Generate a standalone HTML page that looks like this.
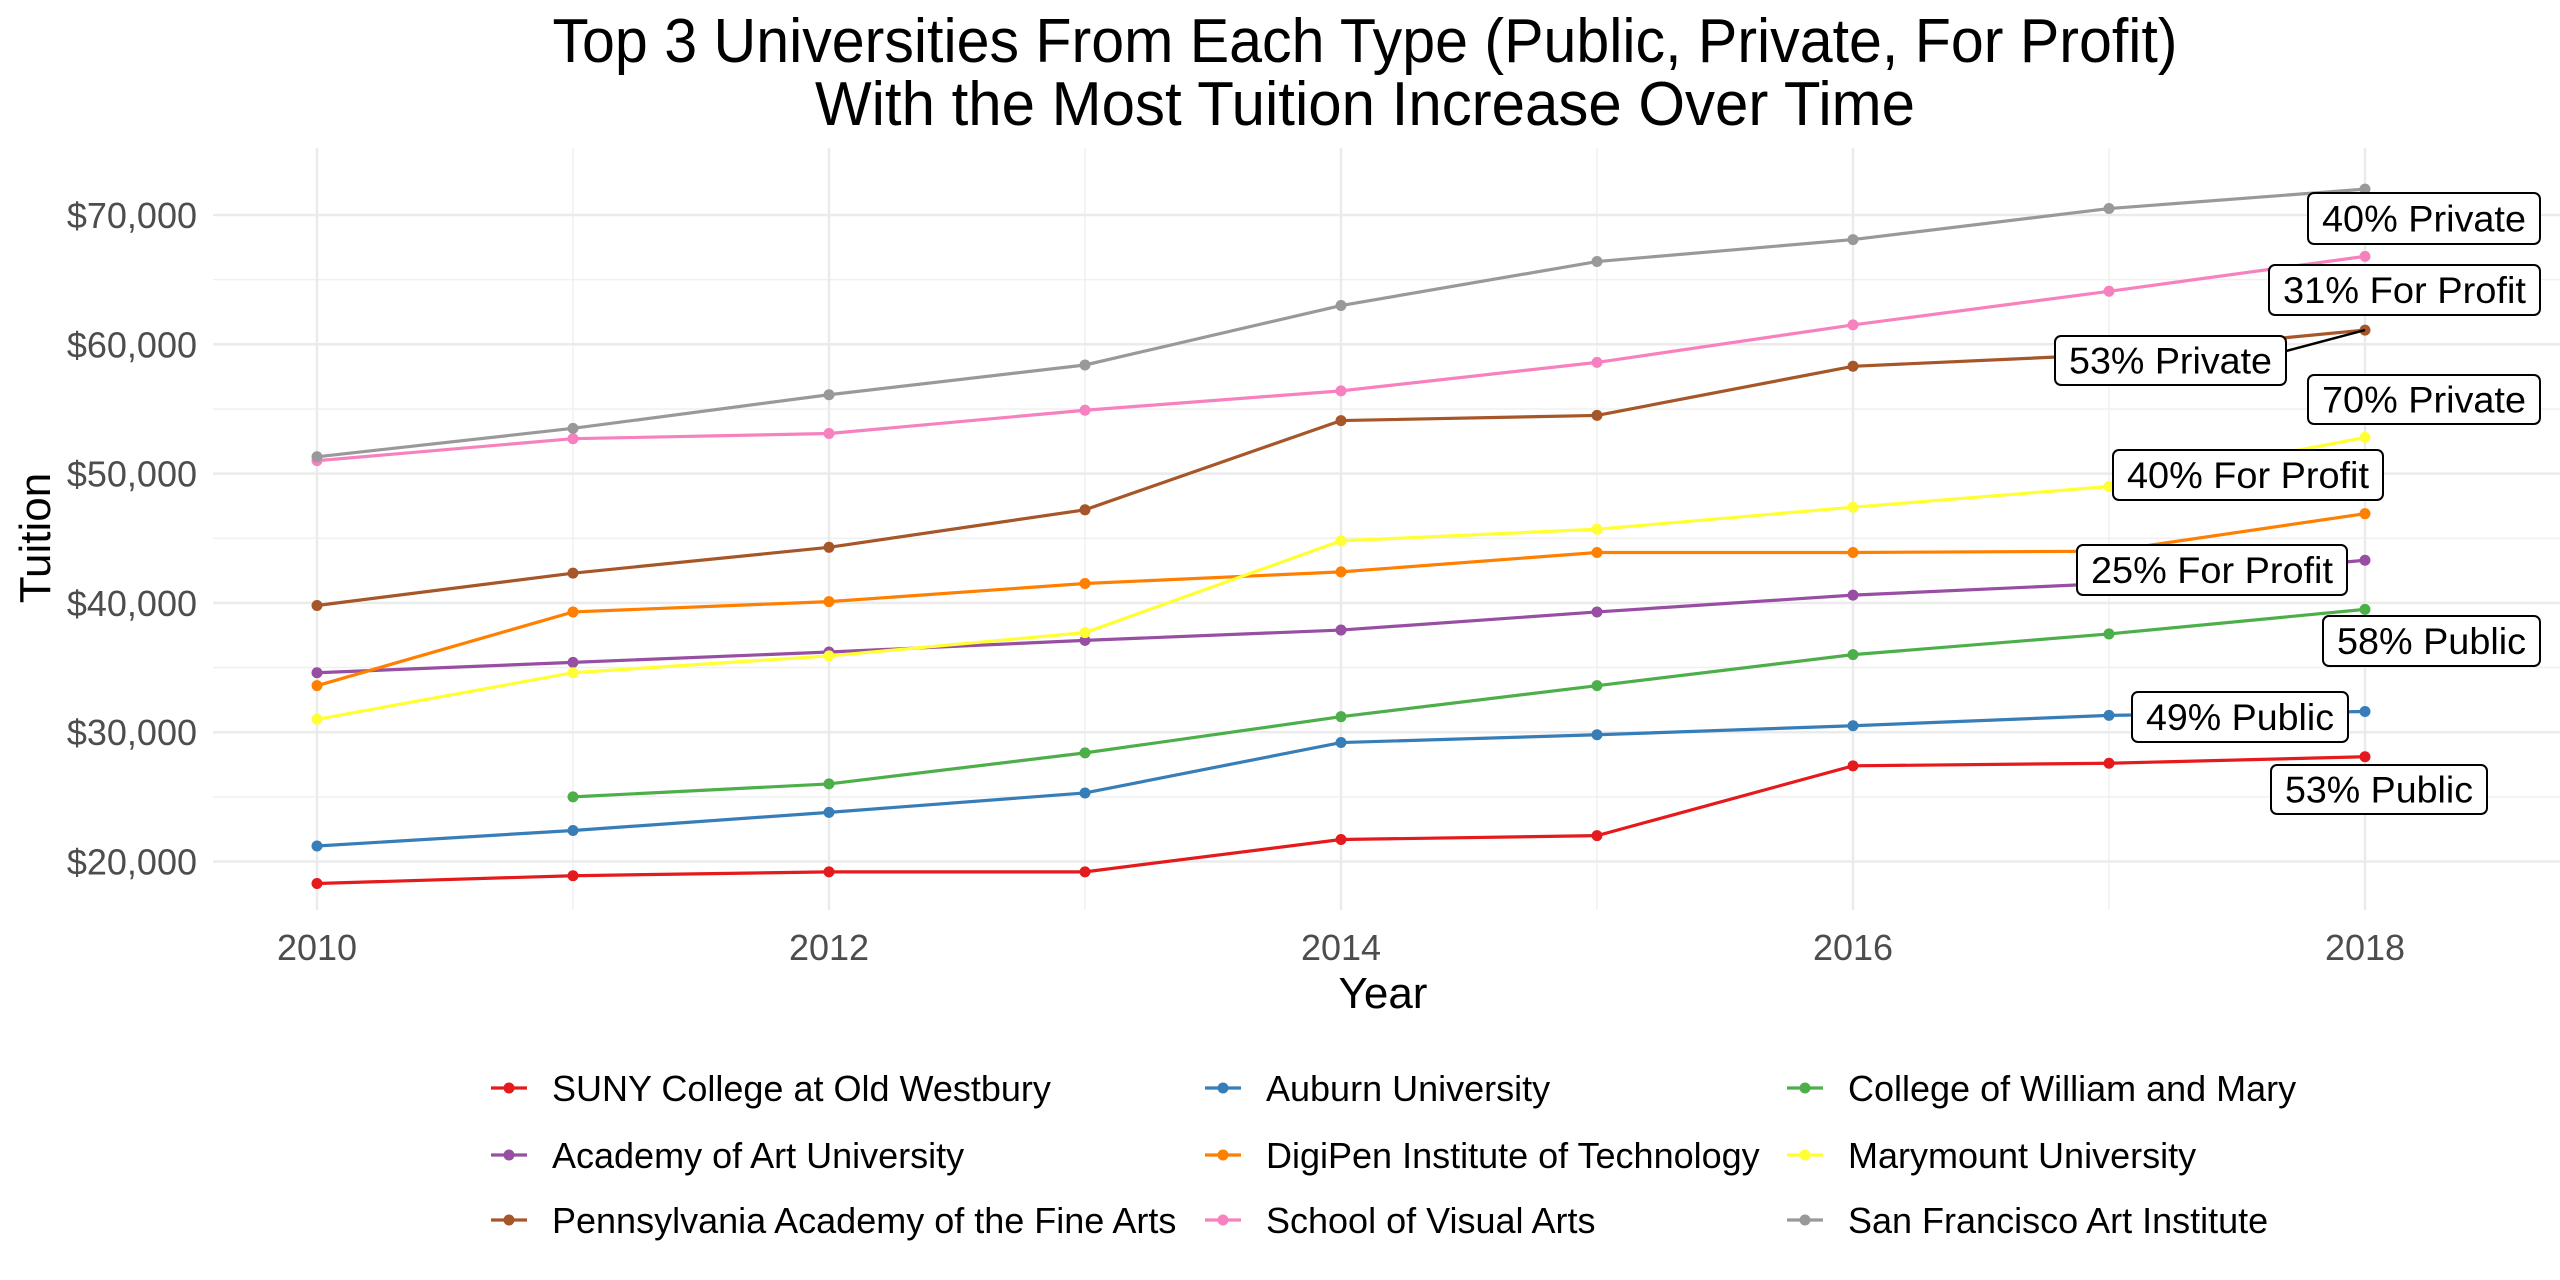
<!DOCTYPE html>
<html><head><meta charset="utf-8"><style>
html,body{margin:0;padding:0;background:#fff;}
svg{display:block;font-family:"Liberation Sans",Arial,sans-serif;}
</style></head><body>
<svg id="chart" width="2560" height="1280" viewBox="0 0 2560 1280" xmlns="http://www.w3.org/2000/svg">
<rect width="2560" height="1280" fill="#fff"/>
<text x="1365" y="62" text-anchor="middle" font-size="62" textLength="1625" lengthAdjust="spacingAndGlyphs">Top 3 Universities From Each Type (Public, Private, For Profit)</text>
<text x="1365" y="125" text-anchor="middle" font-size="62" textLength="1100" lengthAdjust="spacingAndGlyphs">With the Most Tuition Increase Over Time</text>
<g id="grid"></g><g id="axes"></g><g id="series"></g><g id="labels"></g><g id="legend"></g>
</svg>
<script>
const years=[2010,2011,2012,2013,2014,2015,2016,2017,2018];
const names=["SUNY College at Old Westbury","Auburn University","College of William and Mary","Academy of Art University","DigiPen Institute of Technology","Marymount University","Pennsylvania Academy of the Fine Arts","School of Visual Arts","San Francisco Art Institute"];
const colors=["#E41A1C","#377EB8","#4DAF4A","#984EA3","#FF7F00","#FFFF33","#A65628","#F781BF","#999999"];
const suny=[18300,18900,19200,19200,21700,22000,27400,27600,28100];
const auburn=[21200,22400,23800,25300,29200,29800,30500,31300,31600];
const wm=[null,25000,26000,28400,31200,33600,36000,37600,39500];
const aau=[34600,35400,36200,37100,37900,39300,40600,41500,43300];
const digipen=[33600,39300,40100,41500,42400,43900,43900,44000,46900];
const marymount=[31000,34600,35900,37700,44800,45700,47400,49000,52800];
const pafa=[39800,42300,44300,47200,54100,54500,58300,59200,61100];
const sva=[51000,52700,53100,54900,56400,58600,61500,64100,66800];
const sfai=[51300,53500,56100,58400,63000,66400,68100,70500,72000];
const yTicks=[20000,30000,40000,50000,60000,70000];
const yTickLabels=["$20,000","$30,000","$40,000","$50,000","$60,000","$70,000"];
const xTicks=[2010,2012,2014,2016,2018];
const labelTexts=["53% Public","49% Public","58% Public","25% For Profit","40% For Profit","70% Private","53% Private","31% For Profit","40% Private"];
const series=[suny,auburn,wm,aau,digipen,marymount,pafa,sva,sfai];
const NS="http://www.w3.org/2000/svg";
const X=y=>317+(y-2010)*256;
const Y=v=>861.5-(v-20000)*0.01293;
function mk(tag,attrs,parent,txt){const e=document.createElementNS(NS,tag);for(const k in attrs)e.setAttribute(k,attrs[k]);if(txt!==undefined)e.textContent=txt;parent.appendChild(e);return e;}
const grid=document.getElementById('grid'),axes=document.getElementById('axes');
for(let i=0;i<yTicks.length-1;i++){const v=(yTicks[i]+yTicks[i+1])/2;const l=mk('line',{x1:213,x2:2560,y1:Y(v),y2:Y(v),stroke:'#f0f0f0','stroke-width':1.5},grid);}
for(let y=2011;y<=2017;y+=2){const l=mk('line',{x1:X(y),x2:X(y),y1:148,y2:910,stroke:'#f0f0f0','stroke-width':1.5},grid);}
yTicks.forEach((v,i)=>{const l=mk('line',{x1:213,x2:2560,y1:Y(v),y2:Y(v),stroke:'#ebebeb','stroke-width':2.5},grid);
const t=mk('text',{x:197,y:Y(v)+13,'text-anchor':'end','font-size':36,fill:'#4d4d4d'},axes,yTickLabels[i]);});
xTicks.forEach(y=>{const l=mk('line',{x1:X(y),x2:X(y),y1:148,y2:910,stroke:'#ebebeb','stroke-width':2.5},grid);
const t=mk('text',{x:X(y),y:960,'text-anchor':'middle','font-size':36,fill:'#4d4d4d'},axes,String(y));});
let t=mk('text',{x:1383,y:1008,'text-anchor':'middle','font-size':44},axes,'Year');
t=mk('text',{x:0,y:0,'text-anchor':'middle','font-size':44,transform:'translate(50,538) rotate(-90)'},axes,'Tuition');
const sg=document.getElementById('series');
series.forEach((s,si)=>{const g=mk('g',{},sg);
let d='';s.forEach((v,i)=>{if(v==null)return;d+=(d?'L':'M')+X(years[i])+','+Y(v);});
const p=mk('path',{d:d,fill:'none',stroke:colors[si],'stroke-width':3.2},g);
s.forEach((v,i)=>{if(v==null)return;const c=mk('circle',{cx:X(years[i]),cy:Y(v),r:5.5,fill:colors[si]},g);});});
const boxes=[[2271,765,216,49],[2132,692,216,50],[2323,616,217,50],[2077,545,270,50],[2113,450,270,50],[2308,375,232,49],[2055,336,231,49],[2269,265,271,50],[2308,193,232,51]];
const lg=document.getElementById('labels');
const ld=mk('line',{x1:2286,y1:351,x2:X(2018),y2:Y(pafa[8]),stroke:'#000','stroke-width':2.5},lg);
boxes.forEach((b,i)=>{const g=mk('g',{},lg);
mk('rect',{x:b[0],y:b[1],width:b[2],height:b[3],rx:6,fill:'#fff',stroke:'#000','stroke-width':2},g);
mk('text',{x:b[0]+b[2]/2,y:b[1]+b[3]/2+13,'text-anchor':'middle','font-size':37,textLength:b[2]-28,lengthAdjust:'spacingAndGlyphs'},g,labelTexts[i]);});
const leg=document.getElementById('legend');
const colX=[509,1223,1805],rowY=[1088,1155,1220];
names.forEach((n,i)=>{const cx=colX[i%3],cy=rowY[Math.floor(i/3)];const g=mk('g',{},leg);
mk('line',{x1:cx-18,x2:cx+18,y1:cy,y2:cy,stroke:colors[i],'stroke-width':3.2},g);
mk('circle',{cx:cx,cy:cy,r:5.5,fill:colors[i]},g);
mk('text',{x:cx+43,y:cy+13,'font-size':36},g,n);});
</script>
</body></html>
